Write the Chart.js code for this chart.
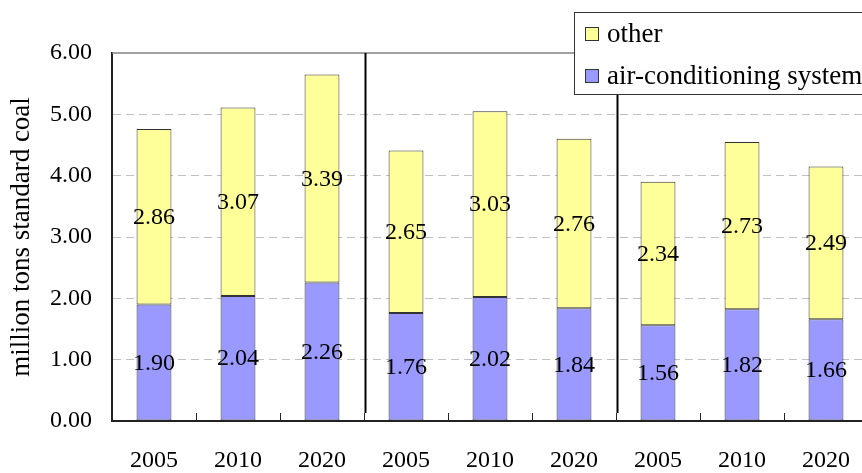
<!DOCTYPE html>
<html>
<head>
<meta charset="utf-8">
<script src="https://cdn.jsdelivr.net/npm/chart.js@4.4.1/dist/chart.umd.min.js"></script>
<style>
  html, body { margin: 0; padding: 0; background: #fff; overflow: hidden; }
  canvas { display: block; }
</style>
</head>
<body>
<canvas id="energyChart" width="872" height="473"></canvas>
<script>
// Years repeat for each of the three groups
const years = ["2005", "2010", "2020", "2005", "2010", "2020", "2005", "2010", "2020"];
const acSystem = [1.90, 2.04, 2.26, 1.76, 2.02, 1.84, 1.56, 1.82, 1.66];
const other = [2.86, 3.07, 3.39, 2.65, 3.03, 2.76, 2.34, 2.73, 2.49];
const groupBreaks = [3, 6]; // a separator line goes before these categories

const SERIF = "'Liberation Serif'";

// Draws boundary ticks, group separators, value labels, frame and legend
const decor = {
  id: "decor",
  afterDatasetsDraw(chart) {
    const { ctx, chartArea: a, scales: { x } } = chart;
    ctx.save();

    // top frame line
    ctx.strokeStyle = "#808080";
    ctx.lineWidth = 1.5;
    ctx.beginPath();
    ctx.moveTo(a.left, a.top);
    ctx.lineTo(chart.width, a.top);
    ctx.stroke();

    // ticks between categories, and the long separator lines
    for (let i = 1; i < years.length; i++) {
      const bx = Math.round((x.getPixelForValue(i - 1) + x.getPixelForValue(i)) / 2) + 0.5;
      ctx.strokeStyle = "#222";
      ctx.lineWidth = 1;
      ctx.beginPath();
      ctx.moveTo(bx, a.bottom - 8);
      ctx.lineTo(bx, a.bottom);
      ctx.stroke();
      if (groupBreaks.includes(i)) {
        ctx.strokeStyle = "#000";
        ctx.lineWidth = 2;
        ctx.beginPath();
        ctx.moveTo(bx + 1, a.top);
        ctx.lineTo(bx + 1, a.bottom - 8);
        ctx.stroke();
      }
    }

    // value labels in the middle of each segment
    ctx.fillStyle = "#000";
    ctx.font = "24px " + SERIF;
    ctx.textAlign = "center";
    ctx.textBaseline = "middle";
    chart.data.datasets.forEach((ds, di) => {
      chart.getDatasetMeta(di).data.forEach((bar, i) => {
        const { x: bx, y, base } = bar.getProps(["x", "y", "base"], true);
        ctx.fillText(ds.data[i].toFixed(2), bx, (y + base) / 2 + 1);
      });
    });

    // legend box, top series listed first
    const lx = 574, ly = 12;
    ctx.fillStyle = "#fff";
    ctx.fillRect(lx, ly, chart.width - lx + 10, 82);
    ctx.strokeStyle = "#333";
    ctx.lineWidth = 1;
    ctx.strokeRect(lx + 0.5, ly + 0.5, chart.width - lx + 10, 82);
    ctx.font = "27px " + SERIF;
    ctx.textAlign = "left";
    const items = chart.data.datasets.slice().reverse();
    items.forEach((ds, k) => {
      const cy = 34 + k * 42;
      ctx.fillStyle = ds.backgroundColor;
      ctx.fillRect(585, cy - 7, 14, 14);
      ctx.strokeStyle = "#333";
      ctx.strokeRect(585.5, cy - 6.5, 13, 13);
      ctx.fillStyle = "#000";
      ctx.fillText(ds.label, 607, cy + 1);
    });

    ctx.restore();
  }
};

function drawChart() {
  new Chart(document.getElementById("energyChart"), {
    type: "bar",
    data: {
      labels: years,
      datasets: [
        {
          label: "air-conditioning system",
          data: acSystem,
          backgroundColor: "#9999ff",
          borderColor: "#333",
          borderWidth: 1,
          borderSkipped: false
        },
        {
          label: "other",
          data: other,
          backgroundColor: "#ffff99",
          borderColor: "#333",
          borderWidth: 1,
          borderSkipped: false
        }
      ]
    },
    options: {
      responsive: false,
      animation: false,
      categoryPercentage: 1,
      barPercentage: 0.415,
      layout: { padding: { top: 53, right: 4, left: 0, bottom: 0 } },
      plugins: {
        legend: { display: false },
        tooltip: { enabled: false }
      },
      scales: {
        x: {
          stacked: true,
          afterFit: s => { s.height = 52; },
          grid: { display: false },
          border: { color: "#222", width: 2 },
          ticks: {
            color: "#000",
            font: { family: SERIF, size: 24 },
            padding: 17,
            maxRotation: 0
          }
        },
        y: {
          stacked: true,
          min: 0,
          max: 6,
          afterFit: s => { s.width = 112; },
          border: { color: "#222", width: 2, dash: [8, 5] },
          grid: {
            drawTicks: false,
            color: c => (c.tick.value === 0 || c.tick.value === 6) ? "rgba(0,0,0,0)" : "#c0c0c0"
          },
          ticks: {
            stepSize: 1,
            color: "#000",
            padding: 20,
            font: { family: SERIF, size: 24 },
            callback: v => v.toFixed(2)
          },
          title: {
            display: true,
            text: "million tons standard coal",
            color: "#000",
            font: { family: SERIF, size: 27 },
            padding: { top: 6, bottom: 0 }
          }
        }
      }
    },
    plugins: [decor]
  });
}

// make sure the serif face is ready before the canvas is painted
Promise.all([
  document.fonts.load("24px 'Liberation Serif'"),
  document.fonts.load("27px 'Liberation Serif'")
]).then(drawChart, drawChart);
</script>
</body>
</html>
